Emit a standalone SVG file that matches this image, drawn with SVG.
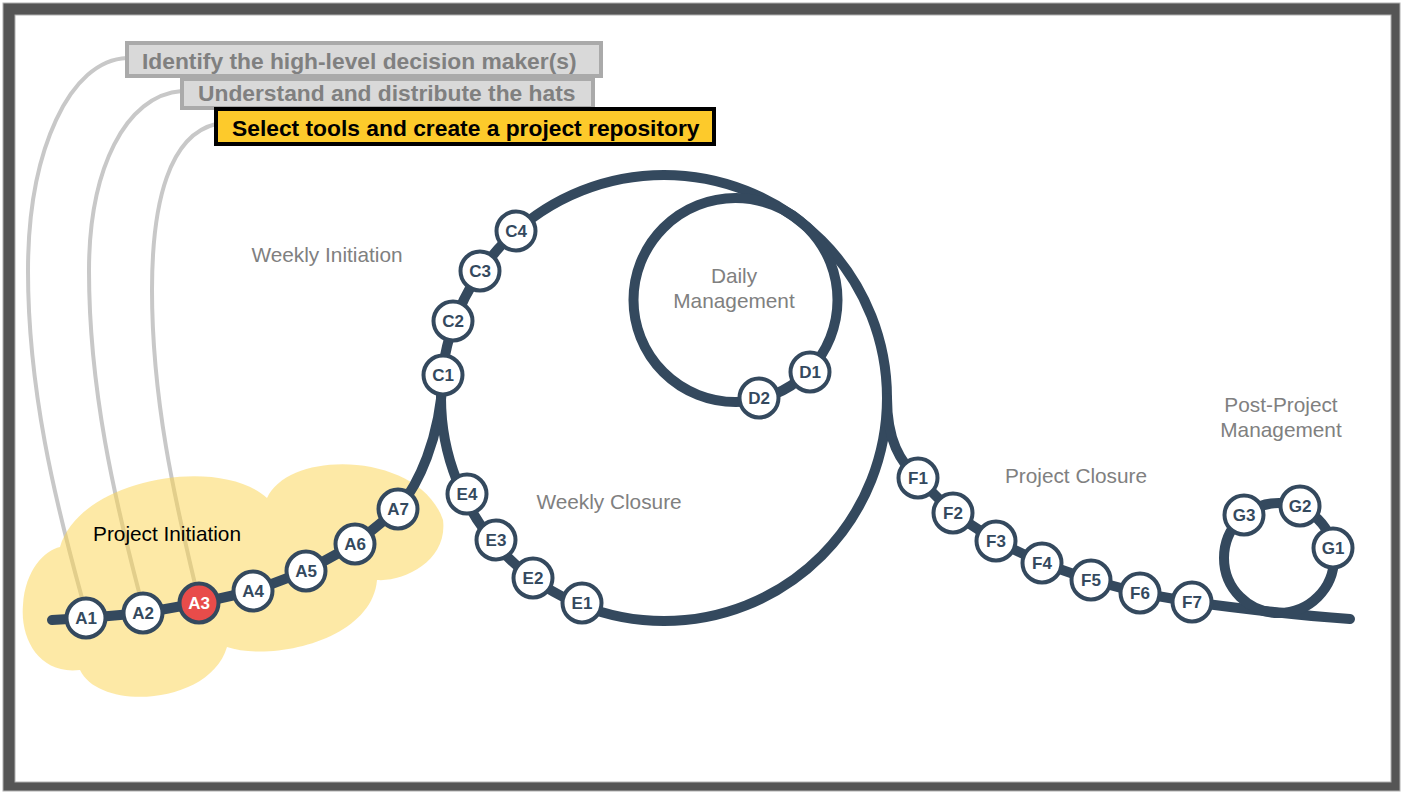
<svg xmlns="http://www.w3.org/2000/svg" width="1403" height="792" viewBox="0 0 1403 792">
<style>
.track{fill:none;stroke:#34495e;stroke-width:10;stroke-linecap:round;stroke-linejoin:round}
.hatline{fill:none;stroke:#c8c8c8;stroke-width:4}
.node circle{fill:#ffffff;stroke:#34495e;stroke-width:4}
.node text{font-family:"Liberation Sans",Arial,sans-serif;font-weight:bold;font-size:17px;fill:#34495e;text-anchor:middle}
.node.active circle{fill:#e84c4a}
.node.active text{fill:#ffffff}
.phase{font-family:"Liberation Sans",Arial,sans-serif;font-size:20.8px;fill:#808080;text-anchor:middle}
.hat rect{fill:#d9d9d9;stroke:#aaaaaa;stroke-width:4}
.hat text{font-family:"Liberation Sans",Arial,sans-serif;font-weight:bold;font-size:22.8px;fill:#808080}
.hat.current rect{fill:#fdca2b;stroke:#000000}
.hat.current text{fill:#000000}
</style>
<rect x="0" y="0" width="1403" height="792" fill="#ffffff"/>
<g id="frame">
<path d="M3,3 H1400 V791 H3 Z M15,15 V782 H1391 V15 Z" fill="#555555" fill-rule="evenodd"/>
<rect x="3" y="3" width="1397" height="788" fill="none" stroke="#b0b0b0" stroke-width="1"/>
<rect x="15" y="15" width="1376" height="767" fill="none" stroke="#b0b0b0" stroke-width="1"/>
</g>
<g id="hat-connectors">
<path class="hatline" d="M127,58 C70,60 28,150 28,271 C28,390 55,500 82,598"/>
<path class="hatline" d="M182,91 C125,95 89,170 89,271 C89,390 115,500 140,596"/>
<path class="hatline" d="M216,124 C170,135 152,200 152,290 C152,400 175,500 195,584"/>
</g>
<g id="cloud">
<path d="M60,547 C80,478 220,455 267,498 C290,448 420,452 443,520 C448,560 405,582 377,580 C372,640 272,662 227,647 C210,705 100,712 80,670 C40,675 20,640 23,605 C25,570 45,550 60,547 Z" fill="#fcd34d" fill-opacity="0.5"/>
</g>
<g id="connectors">
<path class="track" d="M52,620 L86,618 L143,613 L199,603 L253,591 L306,571 L355,544 L398,509 C418,485 440,440 443,376"/>
<circle class="track" cx="664" cy="398" r="223"/>
<circle class="track" cx="735.5" cy="300" r="102"/>
<path class="track" d="M887,398 C887,440 900,462 918,478 L953,513 L996,541 L1042,563 L1091,580 L1140,593 L1192,602 Q1280,614 1350,619"/>
<circle class="track" cx="1279" cy="558" r="55"/>
</g>
<g id="phase-labels">
<text class="phase" x="327" y="262">Weekly Initiation</text>
<text class="phase" x="734" y="283">Daily</text>
<text class="phase" x="734" y="308">Management</text>
<text class="phase" x="609" y="509">Weekly Closure</text>
<text class="phase" x="1076" y="483">Project Closure</text>
<text class="phase" x="1281" y="412">Post-Project</text>
<text class="phase" x="1281" y="437">Management</text>
<text class="phase" x="167" y="541" style="fill:#000000">Project Initiation</text>
</g>
<g id="A1" class="node"><circle cx="86" cy="618" r="19.5"/><text x="86" y="624">A1</text></g>
<g id="A2" class="node"><circle cx="143" cy="613" r="19.5"/><text x="143" y="619">A2</text></g>
<g id="A3" class="node active"><circle cx="199" cy="603" r="19.5"/><text x="199" y="609">A3</text></g>
<g id="A4" class="node"><circle cx="253" cy="591" r="19.5"/><text x="253" y="597">A4</text></g>
<g id="A5" class="node"><circle cx="306" cy="571" r="19.5"/><text x="306" y="577">A5</text></g>
<g id="A6" class="node"><circle cx="355" cy="544" r="19.5"/><text x="355" y="550">A6</text></g>
<g id="A7" class="node"><circle cx="398" cy="509" r="19.5"/><text x="398" y="515">A7</text></g>
<g id="C1" class="node"><circle cx="443" cy="375" r="19.5"/><text x="443" y="381">C1</text></g>
<g id="C2" class="node"><circle cx="453" cy="321" r="19.5"/><text x="453" y="327">C2</text></g>
<g id="C3" class="node"><circle cx="480" cy="271" r="19.5"/><text x="480" y="277">C3</text></g>
<g id="C4" class="node"><circle cx="516" cy="231" r="19.5"/><text x="516" y="237">C4</text></g>
<g id="D1" class="node"><circle cx="810" cy="372" r="19.5"/><text x="810" y="378">D1</text></g>
<g id="D2" class="node"><circle cx="759" cy="398" r="19.5"/><text x="759" y="404">D2</text></g>
<g id="E1" class="node"><circle cx="582" cy="603" r="19.5"/><text x="582" y="609">E1</text></g>
<g id="E2" class="node"><circle cx="533" cy="578" r="19.5"/><text x="533" y="584">E2</text></g>
<g id="E3" class="node"><circle cx="496" cy="540" r="19.5"/><text x="496" y="546">E3</text></g>
<g id="E4" class="node"><circle cx="467" cy="494" r="19.5"/><text x="467" y="500">E4</text></g>
<g id="F1" class="node"><circle cx="918" cy="478" r="19.5"/><text x="918" y="484">F1</text></g>
<g id="F2" class="node"><circle cx="953" cy="513" r="19.5"/><text x="953" y="519">F2</text></g>
<g id="F3" class="node"><circle cx="996" cy="541" r="19.5"/><text x="996" y="547">F3</text></g>
<g id="F4" class="node"><circle cx="1042" cy="563" r="19.5"/><text x="1042" y="569">F4</text></g>
<g id="F5" class="node"><circle cx="1091" cy="580" r="19.5"/><text x="1091" y="586">F5</text></g>
<g id="F6" class="node"><circle cx="1140" cy="593" r="19.5"/><text x="1140" y="599">F6</text></g>
<g id="F7" class="node"><circle cx="1192" cy="602" r="19.5"/><text x="1192" y="608">F7</text></g>
<g id="G1" class="node"><circle cx="1333" cy="548" r="19.5"/><text x="1333" y="554">G1</text></g>
<g id="G2" class="node"><circle cx="1300" cy="506" r="19.5"/><text x="1300" y="512">G2</text></g>
<g id="G3" class="node"><circle cx="1244" cy="515" r="19.5"/><text x="1244" y="521">G3</text></g>
<g id="hat1" class="hat"><rect x="127" y="43" width="474" height="33"/><text x="142" y="69">Identify the high-level decision maker(s)</text></g>
<g id="hat2" class="hat"><rect x="182" y="79" width="411" height="29"/><text x="198" y="101">Understand and distribute the hats</text></g>
<g id="hat3" class="hat current"><rect x="216" y="109" width="498" height="35"/><text x="232" y="136">Select tools and create a project repository</text></g>
</svg>
